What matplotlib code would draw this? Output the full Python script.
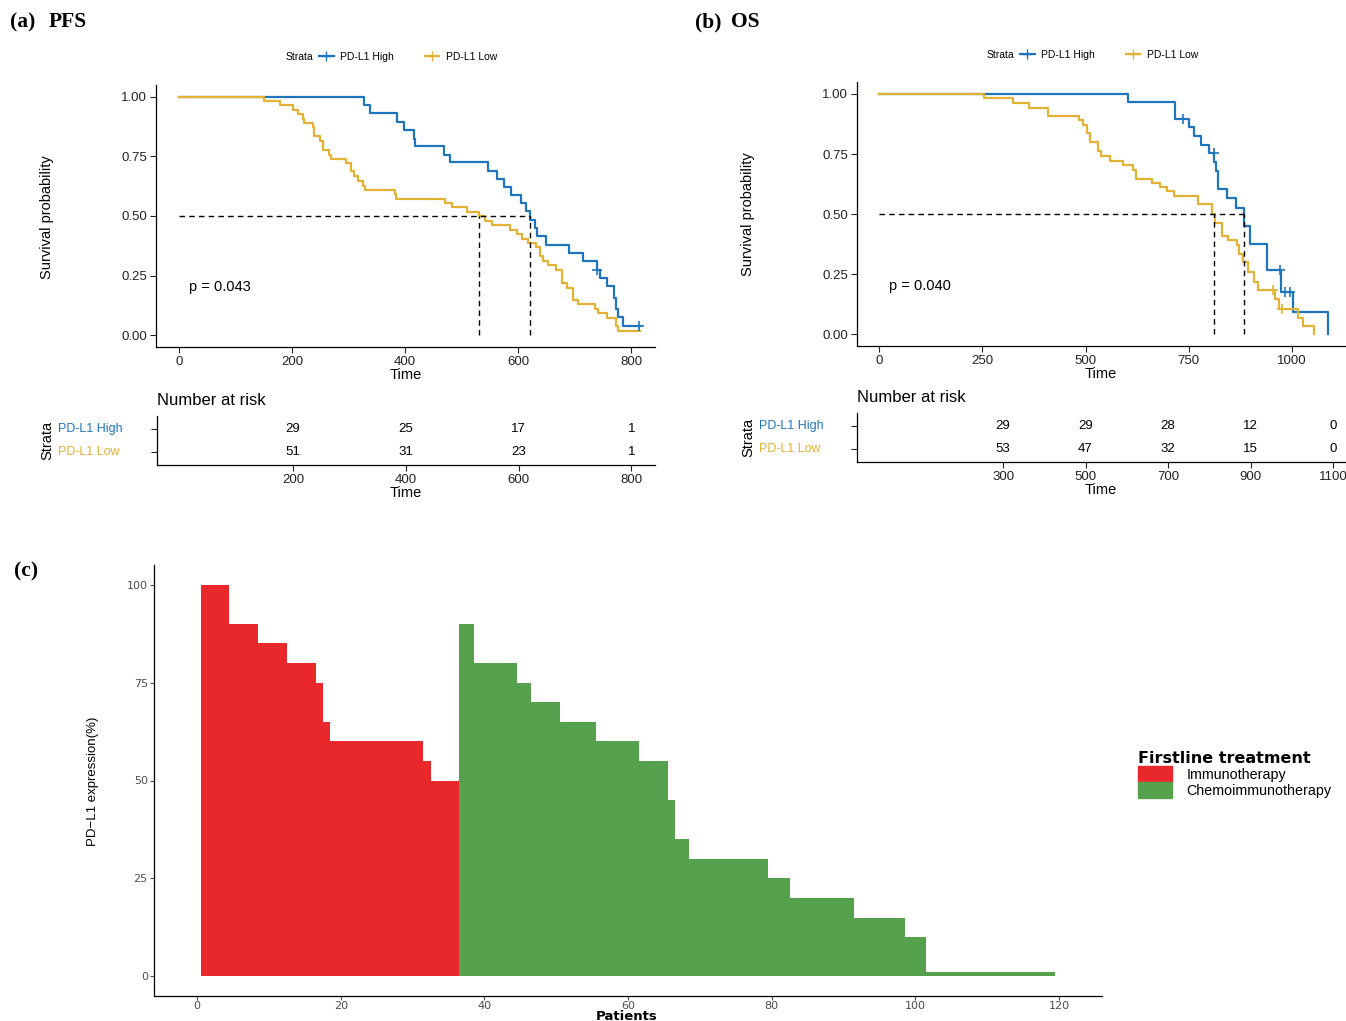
import matplotlib
matplotlib.use("Agg")
import matplotlib.pyplot as plt
from matplotlib.lines import Line2D
from matplotlib.patches import Patch
from matplotlib import font_manager

plt.rcParams['font.family'] = ['Liberation Sans', 'DejaVu Sans']

W, H = 1346, 1021
blue = "#1F75BC"
gold = "#E3B134"
red = "#E8282A"
green = "#55A14E"

# ---- PFS curves (time in days, survival probability)
pfs_hi_t = [0, 327, 338, 385, 398, 416, 417, 469, 480, 547, 562, 575, 587, 605, 614, 620,
            630, 633, 650, 690, 714, 739, 745, 757, 770, 773, 777, 786, 816]
pfs_hi_s = [1.0, 0.966, 0.932, 0.895, 0.859, 0.825, 0.792, 0.757, 0.725, 0.690, 0.655, 0.621,
            0.587, 0.554, 0.520, 0.485, 0.450, 0.415, 0.377, 0.345, 0.310, 0.275, 0.240,
            0.205, 0.156, 0.110, 0.077, 0.038, 0.038]
pfs_lo_t = [0, 150, 178, 202, 210, 220, 221, 237, 238, 250, 255, 266, 268, 296, 304, 309,
            317, 326, 329, 382, 384, 470, 482, 509, 531, 541, 553, 586, 597, 606, 617, 632,
            639, 643, 653, 667, 677, 686, 697, 705, 736, 742, 757, 773, 777, 816]
pfs_lo_s = [1.0, 0.983, 0.964, 0.946, 0.927, 0.908, 0.890, 0.872, 0.837, 0.816, 0.778, 0.757,
            0.740, 0.722, 0.687, 0.666, 0.648, 0.627, 0.610, 0.592, 0.573, 0.554, 0.536,
            0.517, 0.499, 0.480, 0.461, 0.443, 0.425, 0.405, 0.387, 0.369, 0.331, 0.313,
            0.296, 0.275, 0.219, 0.198, 0.149, 0.131, 0.110, 0.094, 0.073, 0.038, 0.017, 0.017]
pfs_hi_cens_t = [739, 813]
pfs_hi_cens_s = [0.275, 0.038]
pfs_lo_cens_t = []
pfs_lo_cens_s = []
pfs_medians = [531, 621]
pfs_p = "p = 0.043"
pfs_breaks = [200, 400, 600, 800]
pfs_risk_hi = [29, 25, 17, 1]
pfs_risk_lo = [51, 31, 23, 1]

# ---- OS curves
os_hi_t = [0, 602, 717, 752, 762, 780, 800, 812, 817, 821, 842, 865, 883, 899, 939, 973,
           1002, 1089]
os_hi_s = [1.0, 0.967, 0.897, 0.862, 0.827, 0.788, 0.753, 0.717, 0.681, 0.604, 0.565, 0.526,
           0.450, 0.377, 0.265, 0.174, 0.091, 0.0]
os_lo_t = [0, 254, 323, 364, 410, 483, 493, 503, 511, 531, 537, 559, 590, 616, 622, 660,
           681, 697, 715, 772, 806, 814, 830, 846, 867, 871, 881, 893, 909, 919, 960, 968,
           1016, 1028, 1053]
os_lo_s = [1.0, 0.983, 0.962, 0.943, 0.909, 0.890, 0.872, 0.837, 0.798, 0.764, 0.742, 0.722,
           0.703, 0.683, 0.647, 0.630, 0.611, 0.594, 0.576, 0.540, 0.502, 0.463, 0.410,
           0.391, 0.372, 0.335, 0.300, 0.258, 0.216, 0.184, 0.146, 0.105, 0.067, 0.035, 0.0]
os_hi_cens_t = [737, 812, 972, 984, 996]
os_hi_cens_s = [0.897, 0.753, 0.265, 0.174, 0.174]
os_lo_cens_t = [954, 976]
os_lo_cens_s = [0.184, 0.105]
os_medians = [812, 883]
os_p = "p = 0.040"
os_breaks = [300, 500, 700, 900, 1100]
os_risk_hi = [29, 29, 28, 12, 0]
os_risk_lo = [53, 47, 32, 15, 0]

# ---- waterfall of PD-L1 expression
immuno_expr = [100, 100, 100, 100, 90, 90, 90, 90, 85, 85, 85, 85, 80, 80, 80, 80, 75, 65,
               60, 60, 60, 60, 60, 60, 60, 60, 60, 60, 60, 60, 60, 55, 50, 50, 50, 50]
chemo_expr = [90, 90, 80, 80, 80, 80, 80, 80, 75, 75, 70, 70, 70, 70, 65, 65, 65, 65, 65,
              60, 60, 60, 60, 60, 60, 55, 55, 55, 55, 45, 35, 35,
              30, 30, 30, 30, 30, 30, 30, 30, 30, 30, 30, 25, 25, 25,
              20, 20, 20, 20, 20, 20, 20, 20, 20, 15, 15, 15, 15, 15, 15, 15, 10, 10, 10,
              1, 1, 1, 1, 1, 1, 1, 1, 1, 1, 1, 1, 1, 1, 1, 1, 1, 1]

names = {f.name for f in font_manager.fontManager.ttflist}
narrow = "Liberation Sans Narrow" if "Liberation Sans Narrow" in names else "Liberation Sans"

fig = plt.figure(figsize=(W / 100, H / 100), dpi=100)


def px_axes(x0, y0, x1, y1):
    return fig.add_axes([x0 / W, 1 - y1 / H, (x1 - x0) / W, (y1 - y0) / H])


def style(ax, lw=0.9):
    for s in ["top", "right"]:
        ax.spines[s].set_visible(False)
    for s in ["left", "bottom"]:
        ax.spines[s].set_linewidth(lw)
    ax.tick_params(direction="out", length=4, width=0.8, labelsize=9.5, colors="#222222", pad=2.5)


def km(ax, hi_t, hi_s, lo_t, lo_s, hc_t, hc_s, lc_t, lc_s, meds, ptxt, xlim, xt):
    ax.step(hi_t, hi_s, where="post", color=blue, lw=1.6)
    ax.step(lo_t, lo_s, where="post", color=gold, lw=1.6)
    ax.plot(hc_t, hc_s, "+", color=blue, ms=7, mew=1.2)
    ax.plot(lc_t, lc_s, "+", color=gold, ms=7, mew=1.2)
    ax.plot([0, max(meds)], [0.5, 0.5], color="black", lw=1, ls=(0, (4, 3)))
    for m in meds:
        ax.plot([m, m], [0, 0.5], color="black", lw=1, ls=(0, (4, 3)))
    ax.text(xlim[1] * 0.02, 0.2, ptxt, fontsize=10.5, ha="left", va="center")
    ax.set_xlim(*xlim)
    ax.set_ylim(-0.05, 1.05)
    ax.set_xticks(xt)
    ax.set_yticks([0, 0.25, 0.5, 0.75, 1.0])
    ax.set_yticklabels(["0.00", "0.25", "0.50", "0.75", "1.00"])
    ax.set_xlabel("Time", fontsize=10.5, labelpad=0)
    style(ax)


def risk(ax, breaks, hi, lo, xlim):
    for b, a, c in zip(breaks, hi, lo):
        ax.text(b, 2, str(a), ha="center", va="center", fontsize=9.5)
        ax.text(b, 1, str(c), ha="center", va="center", fontsize=9.5)
    ax.set_xlim(*xlim)
    ax.set_ylim(0.43, 2.57)
    ax.set_xticks(breaks)
    ax.set_yticks([1, 2])
    ax.set_yticklabels(["", ""])
    ax.set_xlabel("Time", fontsize=10.5, labelpad=0)
    style(ax)


def legend(xs, xh, y):
    fig.text(xs / W, 1 - y / H, "Strata", fontsize=7.5, ha="right", va="center")
    hs = [Line2D([], [], color=blue, lw=1.6, marker="+", ms=7),
          Line2D([], [], color=gold, lw=1.6, marker="+", ms=7)]
    fig.legend(hs, ["PD-L1 High", "PD-L1 Low"], loc="center left",
               bbox_to_anchor=(xh / W, 1 - y / H), ncol=2, frameon=False, fontsize=7.5,
               handlelength=1.4, handletextpad=0.6, columnspacing=3.0,
               borderpad=0, borderaxespad=0)


# (a) PFS
ax1 = px_axes(156, 85, 655, 347)
km(ax1, pfs_hi_t, pfs_hi_s, pfs_lo_t, pfs_lo_s, pfs_hi_cens_t, pfs_hi_cens_s,
   pfs_lo_cens_t, pfs_lo_cens_s, pfs_medians, pfs_p, (-41, 842), [0, 200, 400, 600, 800])
fig.text(47 / W, 1 - 217 / H, "Survival probability", rotation=90, fontsize=10.5,
         ha="center", va="center")
legend(313, 319, 57)
t1 = px_axes(157, 416, 655, 465)
risk(t1, pfs_breaks, pfs_risk_hi, pfs_risk_lo, (-41, 842))
fig.text(157 / W, 1 - 400 / H, "Number at risk", fontsize=12, ha="left", va="center")
fig.text(58 / W, 1 - 429 / H, "PD-L1 High", color=blue, fontsize=9, va="center")
fig.text(58 / W, 1 - 452 / H, "PD-L1 Low", color=gold, fontsize=9, va="center")
fig.text(47 / W, 1 - 440 / H, "Strata", rotation=90, fontsize=10.5, ha="center", va="center")

# (b) OS
ax2 = px_axes(857, 82, 1345, 346)
km(ax2, os_hi_t, os_hi_s, os_lo_t, os_lo_s, os_hi_cens_t, os_hi_cens_s,
   os_lo_cens_t, os_lo_cens_s, os_medians, os_p, (-54, 1129), [0, 250, 500, 750, 1000])
fig.text(748 / W, 1 - 214 / H, "Survival probability", rotation=90, fontsize=10.5,
         ha="center", va="center")
legend(1014, 1020, 55)
t2 = px_axes(857, 413, 1345, 462)
risk(t2, os_breaks, os_risk_hi, os_risk_lo, (-54, 1129))
fig.text(857 / W, 1 - 397 / H, "Number at risk", fontsize=12, ha="left", va="center")
fig.text(759 / W, 1 - 426 / H, "PD-L1 High", color=blue, fontsize=9, va="center")
fig.text(759 / W, 1 - 449 / H, "PD-L1 Low", color=gold, fontsize=9, va="center")
fig.text(748 / W, 1 - 437 / H, "Strata", rotation=90, fontsize=10.5, ha="center", va="center")

# panel titles
serif = dict(family="Liberation Serif", weight="bold", fontsize=15.5, va="center")
fig.text(10 / W, 1 - 22 / H, "(a)", **serif)
fig.text(49 / W, 1 - 22 / H, "PFS", **serif)
fig.text(695 / W, 1 - 22 / H, "(b)", **serif)
fig.text(731 / W, 1 - 22 / H, "OS", **serif)
fig.text(14 / W, 1 - 571 / H, "(c)", **serif)

# (c) waterfall
ax3 = px_axes(154, 565, 1102, 996)
n1 = len(immuno_expr)
x_im = list(range(1, n1 + 1))
x_ch = list(range(n1 + 1, n1 + len(chemo_expr) + 1))
ax3.bar(x_im, immuno_expr, width=1.0, color=red, linewidth=0)
ax3.bar(x_ch, chemo_expr, width=1.0, color=green, linewidth=0)
ax3.set_xlim(-6, 126)
ax3.set_ylim(-5, 105)
ax3.set_xticks([0, 20, 40, 60, 80, 100, 120])
ax3.set_yticks([0, 25, 50, 75, 100])
style(ax3)
ax3.tick_params(labelsize=8, colors="#4D4D4D", pad=1.5, length=3)
ax3.tick_params(axis="x", pad=0.5)
for lab in ax3.get_xticklabels() + ax3.get_yticklabels():
    lab.set_family("DejaVu Sans")
fig.text(627 / W, 1 - 1016 / H, "Patients", family="DejaVu Sans", weight="bold",
         fontsize=9.5, ha="center", va="center")
fig.text(93 / W, 1 - 781 / H, "PD\u2212L1 expression(%)", family=narrow, fontsize=9.5,
         rotation=90, ha="center", va="center")
leg = ax3.legend([Patch(color=red), Patch(color=green)], ["Immunotherapy", "Chemoimmunotherapy"],
                 loc="upper left", bbox_to_anchor=(1138 / W, 1 - 751 / H),
                 bbox_transform=fig.transFigure, frameon=False, fontsize=10.3,
                 handlelength=2.4, handleheight=1.35, labelspacing=0.0, handletextpad=1.0,
                 borderpad=0, borderaxespad=0, alignment="left")
leg.set_title("Firstline treatment", prop=dict(family="DejaVu Sans", weight="bold", size=11.5))

fig.savefig("out.png", dpi=100)
